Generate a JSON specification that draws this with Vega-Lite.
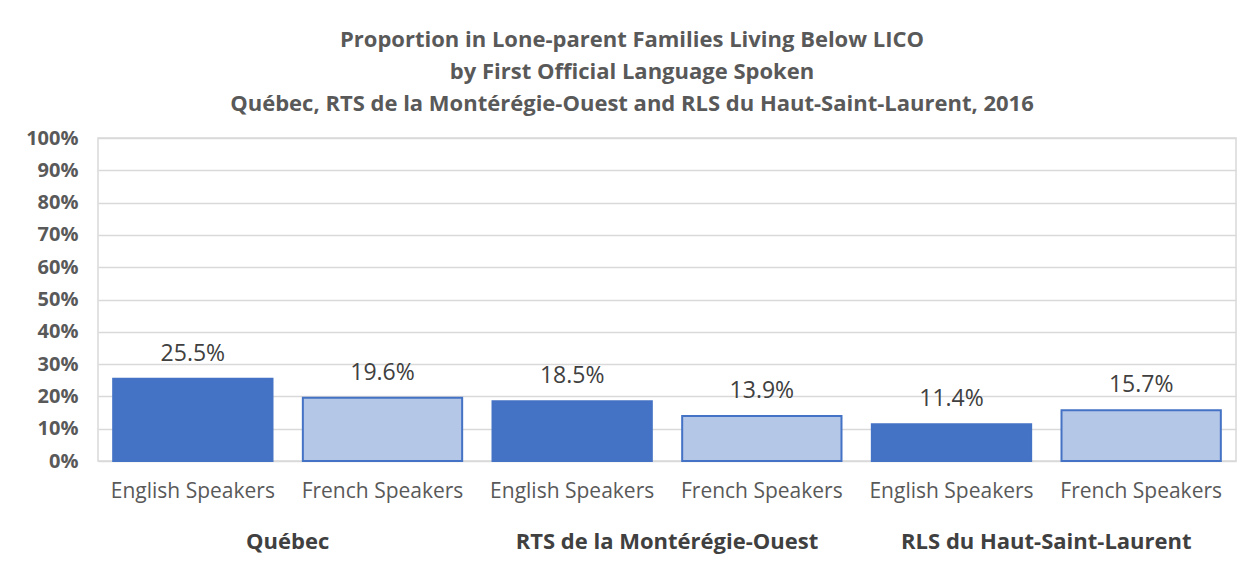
{
  "$schema": "https://vega.github.io/schema/vega-lite/v6.json",
  "autosize": "none",
  "width": 1138,
  "height": 323,
  "padding": {"left": 98, "top": 138, "right": 22, "bottom": 118},
  "background": "white",
  "title": {
    "text": ["Proportion  in Lone-parent Families Living Below LICO", "by First Official Language Spoken", "Québec, RTS de la Montérégie-Ouest and RLS du Haut-Saint-Laurent,  2016"],
    "font": "Open Sans",
    "fontSize": 22,
    "fontWeight": "bold",
    "color": "#595959",
    "lineHeight": 32,
    "offset": 12,
    "anchor": "middle",
    "dx": -35
  },
  "config": {
    "view": {"stroke": "#d9d9d9", "strokeWidth": 1.5},
    "font": "Open Sans"
  },
  "data": {
    "values": [
      {"key": "Québec|English Speakers", "group": "Québec", "lang": "English Speakers", "value": 0.255},
      {"key": "Québec|French Speakers", "group": "Québec", "lang": "French Speakers", "value": 0.196},
      {"key": "RTS de la Montérégie-Ouest|English Speakers", "group": "RTS de la Montérégie-Ouest", "lang": "English Speakers", "value": 0.185},
      {"key": "RTS de la Montérégie-Ouest|French Speakers", "group": "RTS de la Montérégie-Ouest", "lang": "French Speakers", "value": 0.139},
      {"key": "RLS du Haut-Saint-Laurent|English Speakers", "group": "RLS du Haut-Saint-Laurent", "lang": "English Speakers", "value": 0.114},
      {"key": "RLS du Haut-Saint-Laurent|French Speakers", "group": "RLS du Haut-Saint-Laurent", "lang": "French Speakers", "value": 0.157}
    ]
  },
  "layer": [
    {
      "encoding": {
        "x": {
          "field": "key", "type": "nominal", "sort": null,
          "scale": {"paddingInner": 0.16, "paddingOuter": 0.08},
          "axis": {
            "title": null, "labelAngle": 0, "ticks": false, "domain": false,
            "labelExpr": "split(datum.label, '|')[1]",
            "labelFont": "Open Sans", "labelFontSize": 21, "labelColor": "#595959",
            "labelPadding": 19, "labelBaseline": "top", "labelLimit": 0
          }
        },
        "y": {
          "field": "value", "type": "quantitative",
          "scale": {"domain": [0, 1]},
          "axis": {
            "title": null, "format": "%", "values": [0, 0.1, 0.2, 0.3, 0.4, 0.5, 0.6, 0.7, 0.8, 0.9, 1],
            "tickCount": 20,
            "ticks": false, "domain": false, "gridColor": "#d9d9d9", "gridWidth": 1.5,
            "labelFont": "Open Sans", "labelFontSize": 20, "labelFontWeight": "bold",
            "labelColor": "#595959", "labelPadding": 20, "labelOverlap": false
          }
        }
      },
      "layer": [
        {
          "mark": {"type": "bar", "strokeWidth": 2},
          "encoding": {
            "fill": {
              "field": "lang", "type": "nominal",
              "scale": {"domain": ["English Speakers", "French Speakers"], "range": ["#4472C4", "#B4C7E7"]},
              "legend": null
            },
            "stroke": {
              "field": "lang", "type": "nominal",
              "scale": {"domain": ["English Speakers", "French Speakers"], "range": ["#4472C4", "#4472C4"]},
              "legend": null
            }
          }
        },
        {
          "mark": {"type": "text", "baseline": "bottom", "dy": -13, "fontSize": 23, "color": "#404040", "font": "Open Sans"},
          "encoding": {
            "text": {"field": "value", "type": "quantitative", "format": ".1%"}
          }
        }
      ]
    },
    {
      "mark": {"type": "rule", "opacity": 0},
      "encoding": {
        "x": {
          "field": "group", "type": "nominal", "sort": null,
          "scale": {"paddingInner": 0, "paddingOuter": 0},
          "axis": {
            "title": null, "orient": "bottom", "offset": 70, "labelAngle": 0, "ticks": false, "domain": false,
            "labelFont": "Open Sans", "labelFontSize": 22, "labelFontWeight": "bold",
            "labelColor": "#404040", "labelPadding": 0, "labelBaseline": "top", "grid": false, "labelLimit": 0
          }
        }
      }
    }
  ],
  "resolve": {"scale": {"x": "independent"}, "axis": {"x": "independent"}}
}
